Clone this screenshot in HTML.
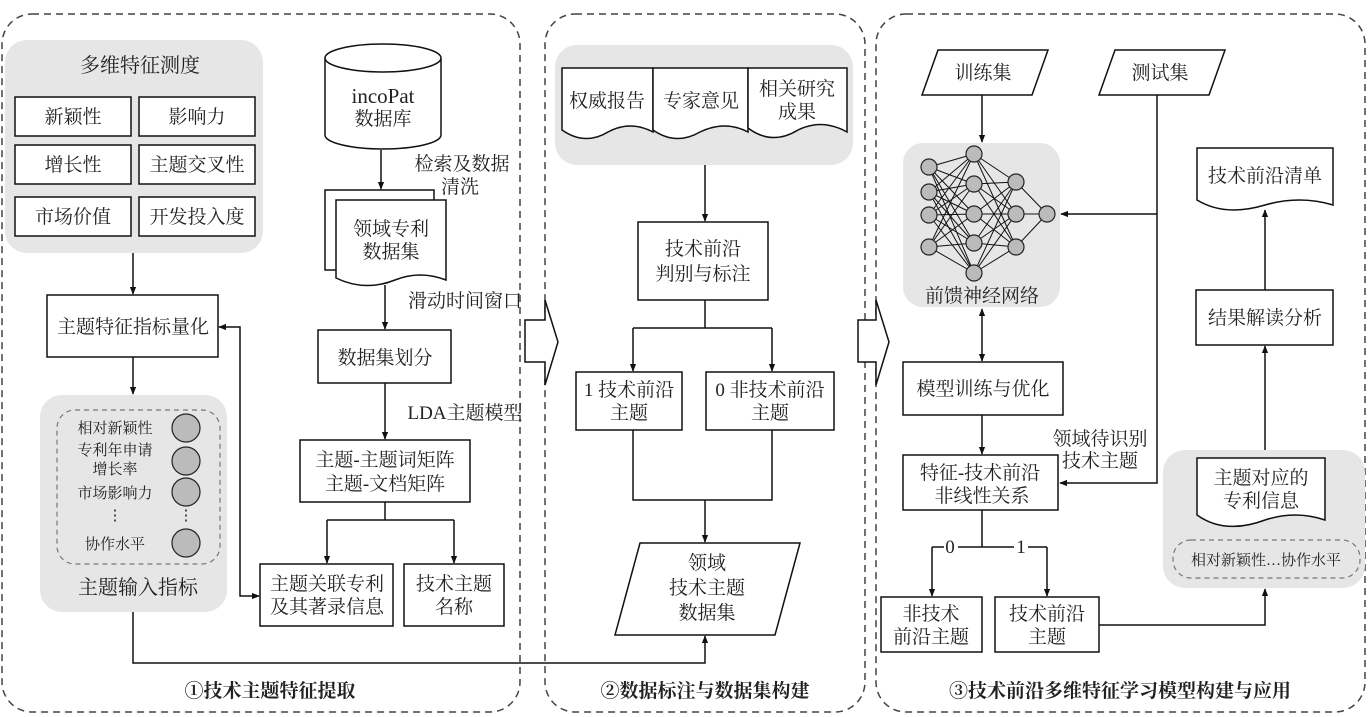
<!DOCTYPE html>
<html><head><meta charset="utf-8"><style>
html,body{margin:0;padding:0;background:#fff;}
svg{display:block;}
text{font-family:"Liberation Serif","Noto Serif CJK SC","Noto Serif CJK JP",serif;fill:#222;}
</style></head><body>
<svg width="1368" height="717" viewBox="0 0 1368 717" xmlns="http://www.w3.org/2000/svg">
<defs>
<marker id="a" viewBox="0 0 10 10" refX="9" refY="5" markerWidth="8" markerHeight="8" orient="auto-start-reverse" markerUnits="userSpaceOnUse"><path d="M0,1 L10,5 L0,9 z" fill="#111"/></marker>
</defs>
<g fill="none" stroke="#444" stroke-width="1.5" stroke-dasharray="7,5">
<rect x="2" y="14" width="518" height="698" rx="30"/>
<rect x="545" y="14" width="320" height="698" rx="30"/>
<rect x="876" y="14" width="489" height="698" rx="30"/>
</g>
<g fill="#fff" stroke="#111" stroke-width="1.5">
<polygon points="525,320 545,320 545,300 558,342 545,385 545,362 525,362"/>
<polygon points="858,320 876,320 876,300 889,342 876,385 876,362 858,362"/>
</g>
<g fill="#e6e6e6">
<rect x="5" y="40" width="258" height="213" rx="22"/>
<rect x="40" y="395" width="187" height="217" rx="22"/>
<rect x="555" y="45" width="298" height="120" rx="22"/>
<rect x="903" y="143" width="157" height="164" rx="20"/>
<rect x="1163" y="450" width="202" height="138" rx="22"/>
</g>
<g fill="none" stroke="#777" stroke-width="1.2" stroke-dasharray="5,4">
<rect x="57" y="410" width="163" height="154" rx="18"/>
<rect x="1173" y="540" width="187" height="38" rx="18"/>
</g>
<g fill="#fff" stroke="#111" stroke-width="1.5">
<rect x="15" y="97" width="116" height="39"/>
<rect x="139" y="97" width="116" height="39"/>
<rect x="15" y="145" width="116" height="39"/>
<rect x="139" y="145" width="116" height="39"/>
<rect x="15" y="197" width="116" height="39"/>
<rect x="139" y="197" width="116" height="39"/>
<rect x="47" y="295" width="171" height="62"/>
<path d="M325,58 L325,135 A58,14 0 0 0 441,135 L441,58"/>
<ellipse cx="383" cy="58" rx="58" ry="14"/>
<path d="M325,190 L434,190 L434,270 L325,270 z"/>
<path d="M336,200 L446,200 L446,280 Q420,270 395,280 Q365,292 336,278 z"/>
<rect x="318" y="330" width="133" height="53"/>
<rect x="300" y="440" width="170" height="62"/>
<rect x="260" y="564" width="133" height="62"/>
<rect x="404" y="564" width="100" height="62"/>
<path d="M562,68 L653,68 L653,132 Q630,120 608,132 Q585,146 562,130 z"/>
<path d="M653,68 L748,68 L748,132 Q725,120 700,132 Q676,146 653,130 z"/>
<path d="M748,68 L847,68 L847,132 Q822,118 798,130 Q772,146 748,128 z"/>
<rect x="638" y="222" width="130" height="78"/>
<rect x="576" y="372" width="106" height="58"/>
<rect x="706" y="372" width="128" height="58"/>
<polygon points="640,543 800,543 775,635 615,635"/>
<polygon points="938,50 1048,50 1032,95 922,95"/>
<polygon points="1115,50 1225,50 1209,95 1099,95"/>
<path d="M1197,148 L1333,148 L1333,205 Q1300,195 1265,205 Q1225,217 1197,200 z"/>
<rect x="1196" y="290" width="137" height="55"/>
<rect x="903" y="362" width="160" height="53"/>
<rect x="903" y="455" width="155" height="55"/>
<path d="M1197,458 L1325,458 L1325,520 Q1295,510 1265,520 Q1225,535 1197,515 z"/>
<rect x="881" y="597" width="101" height="55"/>
<rect x="995" y="597" width="104" height="55"/>
</g>
<g stroke="#111" stroke-width="1">
<path d="M929,167L974,154M929,167L974,184M929,167L974,214M929,167L974,243M929,167L974,273M929,192L974,154M929,192L974,184M929,192L974,214M929,192L974,243M929,192L974,273M929,215L974,154M929,215L974,184M929,215L974,214M929,215L974,243M929,215L974,273M929,247L974,154M929,247L974,184M929,247L974,214M929,247L974,243M929,247L974,273M974,154L1016,182M974,154L1016,214M974,154L1016,247M974,184L1016,182M974,184L1016,214M974,184L1016,247M974,214L1016,182M974,214L1016,214M974,214L1016,247M974,243L1016,182M974,243L1016,214M974,243L1016,247M974,273L1016,182M974,273L1016,214M974,273L1016,247M1016,182L1047,214M1016,214L1047,214M1016,247L1047,214"/>
</g>
<g fill="#bbb" stroke="#222" stroke-width="1.2">
<circle cx="929" cy="167" r="8"/><circle cx="929" cy="192" r="8"/><circle cx="929" cy="215" r="8"/><circle cx="929" cy="247" r="8"/>
<circle cx="974" cy="154" r="8"/><circle cx="974" cy="184" r="8"/><circle cx="974" cy="214" r="8"/><circle cx="974" cy="243" r="8"/><circle cx="974" cy="273" r="8"/>
<circle cx="1016" cy="182" r="8"/><circle cx="1016" cy="214" r="8"/><circle cx="1016" cy="247" r="8"/>
<circle cx="1047" cy="214" r="8"/>
<circle cx="186" cy="428" r="14"/><circle cx="186" cy="461" r="14"/><circle cx="186" cy="492" r="14"/><circle cx="186" cy="543" r="14"/>
</g>
<g fill="none" stroke="#111" stroke-width="1.5">
<path d="M133,253 V294" marker-end="url(#a)"/>
<path d="M133,357 V394" marker-end="url(#a)"/>
<path d="M219,327 H240 V596 H259" marker-start="url(#a)" marker-end="url(#a)"/>
<path d="M133,612 V663 H705 V636" marker-end="url(#a)"/>
<path d="M381,150 V189" marker-end="url(#a)"/>
<path d="M385,285 V329" marker-end="url(#a)"/>
<path d="M385,383 V439" marker-end="url(#a)"/>
<path d="M385,502 V520"/>
<path d="M327,520 H454"/>
<path d="M327,520 V563" marker-end="url(#a)"/>
<path d="M454,520 V563" marker-end="url(#a)"/>
<path d="M705,165 V221" marker-end="url(#a)"/>
<path d="M705,300 V328 M633,328 H772"/>
<path d="M633,328 V371" marker-end="url(#a)"/>
<path d="M772,328 V371" marker-end="url(#a)"/>
<path d="M633,430 V500 H772 V430 M705,500 V542" marker-end="url(#a)"/>
<path d="M982,95 V142" marker-end="url(#a)"/>
<path d="M1157,95 V483 H1060" marker-end="url(#a)"/>
<path d="M1157,214 H1061" marker-end="url(#a)"/>
<path d="M982,309 V361" marker-start="url(#a)" marker-end="url(#a)"/>
<path d="M982,415 V454" marker-end="url(#a)"/>
<path d="M982,510 V547 M932,547 H1047"/>
<path d="M932,547 V596" marker-end="url(#a)"/>
<path d="M1047,547 V596" marker-end="url(#a)"/>
<path d="M1099,625 H1265 V589" marker-end="url(#a)"/>
<path d="M1265,450 V346" marker-end="url(#a)"/>
<path d="M1265,290 V210" marker-end="url(#a)"/>
</g>
<rect x="944" y="538" width="14" height="18" fill="#fff"/>
<rect x="1014" y="538" width="14" height="18" fill="#fff"/>
<g font-size="19" text-anchor="middle">
<text x="140" y="72" font-size="20">多维特征测度</text>
<text x="73" y="123">新颖性</text><text x="197" y="123">影响力</text>
<text x="73" y="171">增长性</text><text x="197" y="171">主题交叉性</text>
<text x="73" y="223">市场价值</text><text x="197" y="223">开发投入度</text>
<text x="133" y="333">主题特征指标量化</text>
<text x="138" y="594" font-size="20">主题输入指标</text>
<text x="383" y="103" font-size="21">incoPat</text>
<text x="383" y="125">数据库</text>
<text x="462" y="170">检索及数据</text>
<text x="460" y="193">清洗</text>
<text x="391" y="235">领域专利</text>
<text x="391" y="258">数据集</text>
<text x="465" y="307">滑动时间窗口</text>
<text x="385" y="364">数据集划分</text>
<text x="465" y="419">LDA主题模型</text>
<text x="385" y="466">主题-主题词矩阵</text>
<text x="385" y="490">主题-文档矩阵</text>
<text x="327" y="590">主题关联专利</text>
<text x="327" y="613">及其著录信息</text>
<text x="454" y="590">技术主题</text>
<text x="454" y="613">名称</text>
<text x="607" y="107">权威报告</text>
<text x="701" y="107">专家意见</text>
<text x="797" y="95">相关研究</text>
<text x="797" y="118">成果</text>
<text x="703" y="255">技术前沿</text>
<text x="703" y="280">判别与标注</text>
<text x="629" y="396">1 技术前沿</text>
<text x="629" y="419">主题</text>
<text x="770" y="396">0 非技术前沿</text>
<text x="770" y="419">主题</text>
<text x="707" y="569">领域</text>
<text x="707" y="594">技术主题</text>
<text x="707" y="619">数据集</text>
<text x="983" y="79">训练集</text>
<text x="1160" y="79">测试集</text>
<text x="982" y="302">前馈神经网络</text>
<text x="1265" y="182">技术前沿清单</text>
<text x="1265" y="324">结果解读分析</text>
<text x="983" y="395">模型训练与优化</text>
<text x="1100" y="445">领域待识别</text>
<text x="1100" y="467">技术主题</text>
<text x="980" y="479">特征-技术前沿</text>
<text x="982" y="502">非线性关系</text>
<text x="950" y="553">0</text><text x="1021" y="553">1</text>
<text x="931" y="620">非技术</text>
<text x="931" y="643">前沿主题</text>
<text x="1047" y="620">技术前沿</text>
<text x="1047" y="643">主题</text>
<text x="1261" y="484">主题对应的</text>
<text x="1261" y="507">专利信息</text>
</g>
<g font-size="19" font-weight="bold" text-anchor="middle">
<text x="270" y="697">①技术主题特征提取</text>
<text x="705" y="697">②数据标注与数据集构建</text>
<text x="1120" y="697">③技术前沿多维特征学习模型构建与应用</text>
</g>
<g font-size="15" text-anchor="middle">
<text x="115" y="433">相对新颖性</text>
<text x="115" y="455">专利年申请</text>
<text x="115" y="474">增长率</text>
<text x="115" y="498">市场影响力</text>
<text x="115" y="520">⋮</text><text x="186" y="520">⋮</text>
<text x="115" y="549">协作水平</text>
<text x="1266" y="565">相对新颖性…协作水平</text>
</g>
</svg>
</body></html>
